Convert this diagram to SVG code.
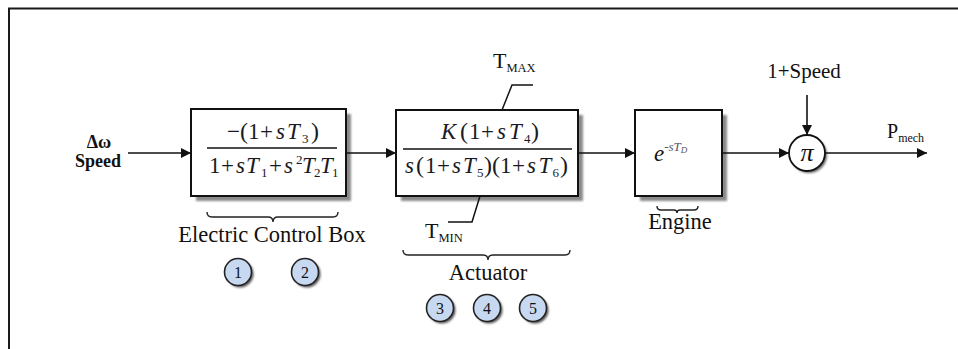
<svg xmlns="http://www.w3.org/2000/svg" width="958" height="349" viewBox="0 0 958 349">
<defs>
<marker id="arr" viewBox="0 0 10 10" refX="10" refY="5" markerWidth="10" markerHeight="10" markerUnits="userSpaceOnUse" orient="auto">
<path d="M0,0 L10,5 L0,10 z" fill="#111"/>
</marker>
<filter id="blur" x="-10%" y="-10%" width="130%" height="130%"><feGaussianBlur stdDeviation="1.2"/></filter>
</defs>
<style>
.frame{stroke:#1a1a1a;stroke-width:2;fill:none}
.box{fill:#fff;stroke:#111;stroke-width:2}
.shadow{fill:#8a8a8a;filter:url(#blur)}
.conn{stroke:#111;stroke-width:1.6;fill:none}
.lim{stroke:#111;stroke-width:1.5;fill:none}
.brace{stroke:#222;stroke-width:1.4;fill:none}
.t{font-family:"Liberation Serif","Times New Roman",serif;fill:#111}
.m{font-family:"Liberation Serif","Times New Roman",serif;fill:#1a1a24;font-size:23px}
.i{font-style:italic}
.p{font-size:24px}
.sub{font-size:13px}
.num{fill:#c6d9f1;stroke:#222;stroke-width:1.6}
.numsh{fill:#555;filter:url(#blur)}
.nt{font-family:"Liberation Serif","Times New Roman",serif;font-size:16px;fill:#111;text-anchor:middle}
</style>
<rect width="958" height="349" fill="#fff"/>
<path class="frame" d="M9,349 L9,8.5 L958,8.5"/>

<g id="input-label">
<text class="t" x="99" y="148" font-size="18" font-weight="bold" text-anchor="middle">Δω</text>
<text class="t" x="98" y="167" font-size="18" font-weight="bold" text-anchor="middle">Speed</text>
</g>

<g id="electric-control-box">
<rect class="shadow" x="196" y="114" width="155" height="87"/>
<rect class="box" x="191" y="109" width="155" height="87"/>
<line x1="207" y1="148" x2="337" y2="148" stroke="#111" stroke-width="1.4"/>
<text class="m" y="139"><tspan x="227">−</tspan><tspan class="p" x="240">(</tspan><tspan x="248">1</tspan><tspan x="260">+</tspan><tspan class="i" x="276">s</tspan><tspan class="i" x="287">T</tspan><tspan class="sub" x="302" dy="4">3</tspan><tspan class="p" x="311" dy="-4">)</tspan></text>
<text class="m" y="173"><tspan x="209">1</tspan><tspan x="221">+</tspan><tspan class="i" x="236">s</tspan><tspan class="i" x="246">T</tspan><tspan class="sub" x="261" dy="4">1</tspan><tspan x="269" dy="-4">+</tspan><tspan class="i" x="284">s</tspan><tspan class="sub" x="296" dy="-9">2</tspan><tspan class="i" x="302" dy="9">T</tspan><tspan class="sub" x="314" dy="4">2</tspan><tspan class="i" x="320" dy="-4">T</tspan><tspan class="sub" x="332" dy="4">1</tspan></text>
<path class="brace" d="M207,212 q0,5 5,5 L268,217 q5,0 5,5 q0,-5 5,-5 L333,217 q5,0 5,-5"/>
<text class="t" x="272" y="242" font-size="22.5" text-anchor="middle">Electric Control Box</text>
<g id="badge-1"><circle class="numsh" cx="240" cy="274" r="13.5"/><circle class="num" cx="238" cy="272" r="13.5"/><text class="nt" x="238" y="278">1</text></g>
<g id="badge-2"><circle class="numsh" cx="307" cy="274" r="13.5"/><circle class="num" cx="305" cy="272" r="13.5"/><text class="nt" x="305" y="278">2</text></g>
</g>

<g id="actuator">
<rect class="shadow" x="401" y="115" width="182" height="86"/>
<rect class="box" x="396" y="110" width="182" height="86"/>
<line x1="403" y1="149" x2="572" y2="149" stroke="#111" stroke-width="1.4"/>
<text class="m" y="139"><tspan class="i" x="441">K</tspan><tspan class="p" x="460">(</tspan><tspan x="469">1</tspan><tspan x="481">+</tspan><tspan class="i" x="497">s</tspan><tspan class="i" x="509">T</tspan><tspan class="sub" x="524" dy="4">4</tspan><tspan class="p" x="531" dy="-4">)</tspan></text>
<text class="m" y="173"><tspan class="i" x="405">s</tspan><tspan class="p" x="416">(</tspan><tspan x="425">1</tspan><tspan x="437">+</tspan><tspan class="i" x="452">s</tspan><tspan class="i" x="463">T</tspan><tspan class="sub" x="477" dy="4">5</tspan><tspan class="p" x="484" dy="-4">)</tspan><tspan class="p" x="492">(</tspan><tspan x="500">1</tspan><tspan x="512">+</tspan><tspan class="i" x="527">s</tspan><tspan class="i" x="538.5">T</tspan><tspan class="sub" x="552.5" dy="4">6</tspan><tspan class="p" x="560" dy="-4">)</tspan></text>
<path class="lim" d="M502,110 L512,85 L533,85"/>
<text class="t" x="493" y="68" font-size="22">T<tspan font-size="12.5" dy="4">MAX</tspan></text>
<path class="lim" d="M480,196 L472,222 L448,222"/>
<text class="t" x="425" y="238" font-size="22">T<tspan font-size="12.5" dy="4">MIN</tspan></text>
<path class="brace" d="M403,250 q0,5 5,5 L483,255 q5,0 5,5 q0,-5 5,-5 L565,255 q5,0 5,-5"/>
<text class="t" x="488" y="280" font-size="22.5" text-anchor="middle">Actuator</text>
<g id="badge-3"><circle class="numsh" cx="442" cy="310" r="13.5"/><circle class="num" cx="440" cy="308" r="13.5"/><text class="nt" x="440" y="314">3</text></g>
<g id="badge-4"><circle class="numsh" cx="489" cy="310" r="13.5"/><circle class="num" cx="487" cy="308" r="13.5"/><text class="nt" x="487" y="314">4</text></g>
<g id="badge-5"><circle class="numsh" cx="535" cy="310" r="13.5"/><circle class="num" cx="533" cy="308" r="13.5"/><text class="nt" x="533" y="314">5</text></g>
</g>

<g id="engine">
<rect class="shadow" x="640" y="115" width="87" height="86"/>
<rect class="box" x="635" y="110" width="87" height="86"/>
<text class="t" x="654" y="161" font-size="23" font-style="italic" fill="#333">e<tspan font-size="13" dy="-10" fill="#556">-sT</tspan><tspan font-size="9" dy="2" fill="#556">D</tspan></text>
<path class="brace" d="M657,206 q0,4 4,4 L674,210 q3,0 3,3 q0,-3 3,-3 L694,210 q4,0 4,-4"/>
<text class="t" x="680" y="229" font-size="22.5" text-anchor="middle">Engine</text>
</g>

<g id="multiplier">
<circle cx="809" cy="155" r="18" fill="#666" filter="url(#blur)"/>
<circle cx="807" cy="153" r="18" fill="#fff" stroke="#111" stroke-width="1.8"/>
<text class="t" x="807" y="161" font-size="26" font-style="italic" text-anchor="middle">π</text>
</g>

<g id="speed-label"><text class="t" x="804" y="78" font-size="21" text-anchor="middle">1+Speed</text></g>
<g id="output-label"><text class="t" x="887" y="138" font-size="20">P<tspan font-size="12" dy="4">mech</tspan></text></g>

<g id="connectors">
<line class="conn" x1="128" y1="153" x2="191" y2="153" marker-end="url(#arr)"/>
<line class="conn" x1="346" y1="153" x2="396" y2="153" marker-end="url(#arr)"/>
<line class="conn" x1="578" y1="153" x2="635" y2="153" marker-end="url(#arr)"/>
<line class="conn" x1="722" y1="153" x2="789" y2="153" marker-end="url(#arr)"/>
<line class="conn" x1="807" y1="95" x2="807" y2="135" marker-end="url(#arr)"/>
<line class="conn" x1="825" y1="153" x2="927" y2="153" marker-end="url(#arr)"/>
</g>
</svg>
